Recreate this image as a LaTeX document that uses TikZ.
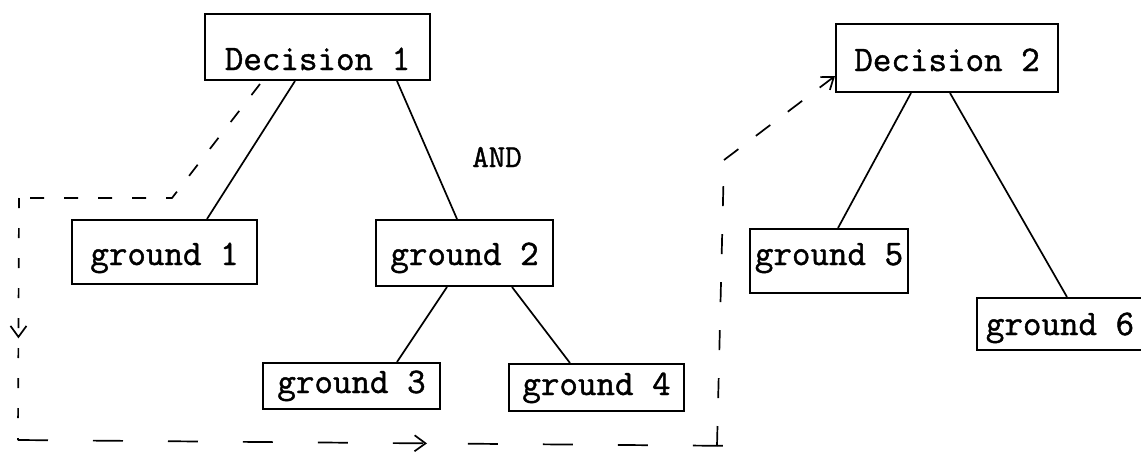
\documentclass[tikz,border=0pt]{standalone}
\usepackage{fontspec}
\newfontfamily\typewriter[FakeBold=1.2]{Latin Modern Mono}
\usetikzlibrary{arrows.meta,decorations.markings,calc}
\tikzset{
  box/.style={draw, line width=2pt, inner sep=0pt, font=\fontsize{36}{40}\selectfont\typewriter, text depth=0pt},
  link/.style={line width=1.7pt},
  flow/.style={line width=1.7pt, dash pattern=on 14pt off 20pt},
  midarrow/.style={postaction={decorate}, decoration={markings, mark=at position #1 with {\arrow[line width=1.7pt]{Straight Barb[length=11pt,width=16pt]}}}},
}
\begin{document}
\begin{tikzpicture}[x=1pt, y=-1pt]
\clip (0,0) rectangle (1141,458);
\fill[white] (0,0) rectangle (1141,458);

% boxes
\node[box, minimum width=225pt, minimum height=66pt, text height=46pt] (d1) at (317.5,47) {Decision 1};
\node[box, minimum width=185pt, minimum height=64pt, text height=26pt] (g1) at (164.5,252) {ground 1};
\node[box, minimum width=177pt, minimum height=66pt, text height=24pt] (g2) at (464.5,253) {ground 2};
\node[box, minimum width=177pt, minimum height=46pt, text height=14pt] (g3) at (351.5,386) {ground 3};
\node[box, minimum width=175pt, minimum height=47pt, text height=15pt] (g4) at (596.5,387.5) {ground 4};
\node[box, minimum width=222pt, minimum height=68pt, text height=26pt] (d2) at (947,58) {Decision 2};
\node[box, minimum width=158pt, minimum height=64pt, text height=8pt] (g5) at (829,261) {ground 5};
\node[box, minimum width=166pt, minimum height=52pt, text height=22pt] (g6) at (1060,324) {ground 6};

\node[anchor=base, inner sep=0pt, font=\fontsize{32}{36}\selectfont\typewriter] (and) at (497,167) {AND};

% tree links
\draw[link] ([xshift=-22.5pt]d1.south) -- ([xshift=42.5pt]g1.north);
\draw[link] ([xshift=79.5pt]d1.south) -- ([xshift=-7.5pt]g2.north);
\draw[link] ([xshift=-17.5pt]g2.south) -- ([xshift=45.5pt]g3.north);
\draw[link] ([xshift=47.5pt]g2.south) -- ([xshift=-26.5pt]g4.north);
\draw[link] ([xshift=-36pt]d2.south) -- ([xshift=9pt]g5.north);
\draw[link] ([xshift=3pt]d2.south) -- ([xshift=7pt]g6.north);

% dashed flow
\coordinate (s) at ([xshift=-57.5pt, yshift=-3pt]d1.south);
\coordinate (c1) at (172,198);
\coordinate (c2) at (19,198);
\coordinate (c3) at (18,440);
\coordinate (c4) at (717,446);
\coordinate (c4x) at (745,446);
\coordinate (c5) at (724,160);
\coordinate (tip) at ([yshift=17pt]d2.south west);

\draw[flow] (s) -- (c1) -- (c2);
\draw[flow, dash pattern=on 10pt off 20pt, midarrow=0.58] (c2) -- (c3);
\draw[flow, dash pattern=on 30pt off 45pt, midarrow=0.5626] (c3) -- (c4x);
\draw[flow, dash pattern=on 20pt off 28pt] (c4) -- (c5);
\draw[flow, dash pattern=on 18pt off 22pt, -{Straight Barb[length=11pt,width=16pt]}] (c5) -- (tip);
\end{tikzpicture}
\end{document}
